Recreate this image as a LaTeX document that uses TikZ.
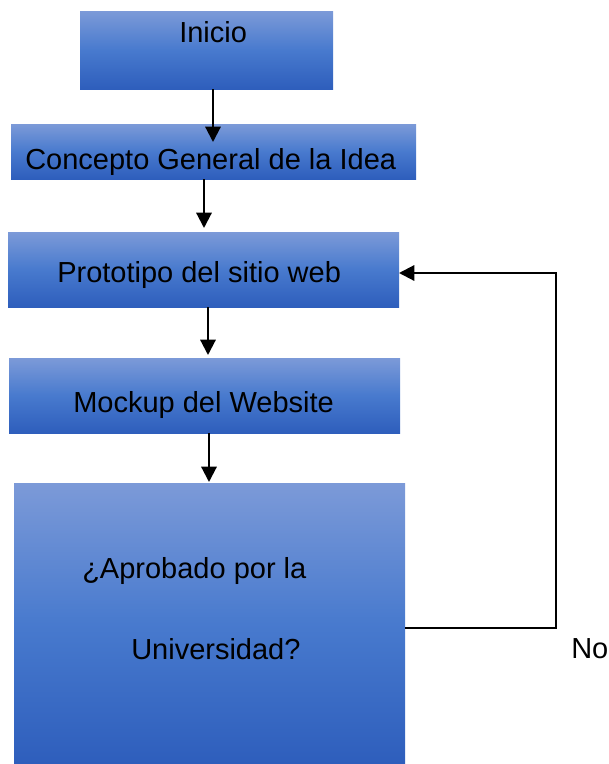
\documentclass[tikz,border=0pt]{standalone}
\usepackage{fontspec}
\setmainfont{Liberation Sans}
\usetikzlibrary{fit,arrows.meta}
\definecolor{boxtop}{RGB}{124,154,216}
\definecolor{boxmid}{RGB}{72,122,206}
\definecolor{boxbot}{RGB}{46,94,188}
\tikzset{
  box/.style={top color=boxtop, bottom color=boxbot, middle color=boxmid, draw=none, inner sep=0pt, outer sep=0pt},
  lbl/.style={inner sep=0pt, anchor=base west, font=\fontsize{21.75pt}{26pt}\selectfont},
  arr/.style={line width=1.6pt, -{Triangle[width=11.5pt,length=11.5pt]}},
}
\begin{document}
\begin{tikzpicture}[x=0.75pt,y=-0.75pt]
\useasboundingbox (0,0) rectangle (609,764);
% boxes
\node[box, fit={(80,11) (333,89)}] (b1) {};
\node[box, fit={(11,124) (416,179)}] (b2) {};
\node[box, fit={(8,232) (399,307)}] (b3) {};
\node[box, fit={(9,358) (400,433)}] (b4) {};
\node[box, fit={(14,483) (405,764)}] (b5) {};
% texts
\node[lbl] (t1) at (179,42) {Inicio};
\node[lbl] (t2) at (25,169) {Concepto General de la Idea};
\node[lbl] (t3) at (57,282) {Prototipo del sitio web};
\node[lbl] (t4) at (73,412) {Mockup del Website};
\node[lbl] (t5a) at (82,578) {¿Aprobado por la};
\node[lbl] (t5b) at (131,659) {Universidad?};
\node[lbl] (no) at (571,658) {No};
% arrow tips
\coordinate (p1) at (213,142);
\coordinate (p2) at (204,228);
\coordinate (p3) at (208,355);
\coordinate (p4) at (209,482);
\coordinate (fb) at (556,628);
\coordinate (fbt) at (556,273);
\draw[arr] (b1.south -| p1) -- (p1);
\draw[arr] (b2.south -| p2) -- (p2);
\draw[arr] (b3.south -| p3) -- (p3);
\draw[arr] (b4.south -| p4) -- (p4);
\draw[arr] (b5.east |- fb) -- (fb) -- (fbt) -- (b3.east |- fbt);
\end{tikzpicture}
\end{document}
